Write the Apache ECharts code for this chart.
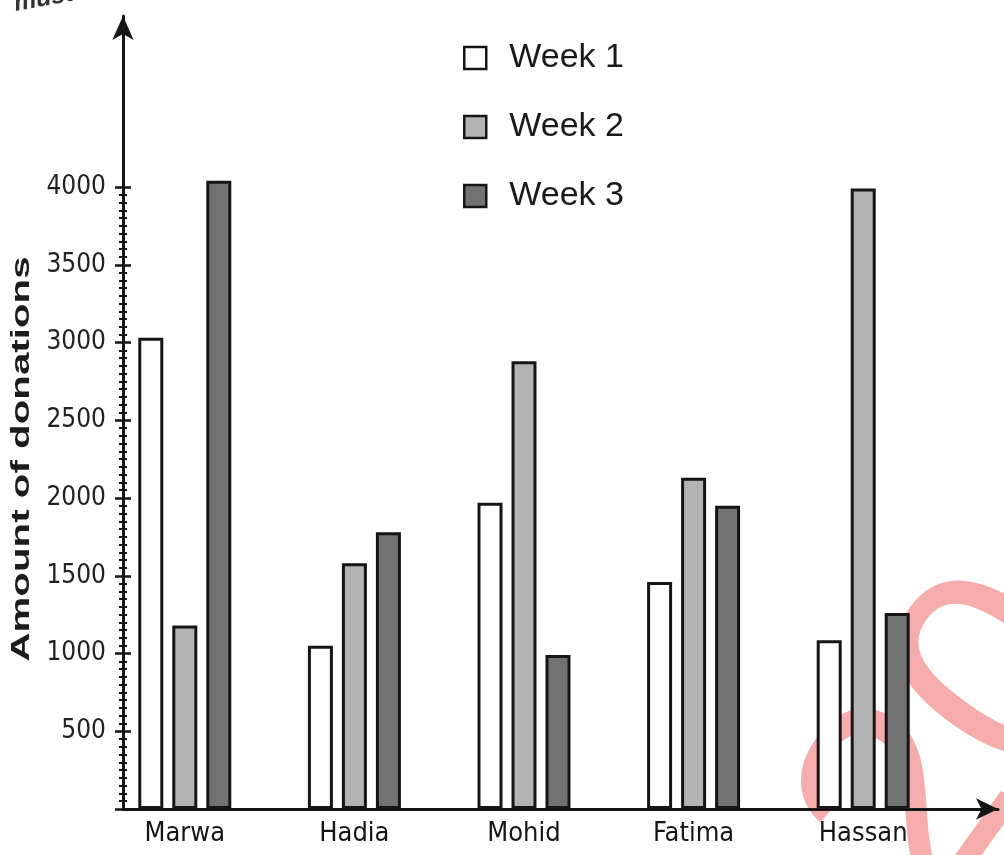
<!DOCTYPE html>
<html>
<head>
<meta charset="utf-8">
<script src="https://cdn.jsdelivr.net/npm/echarts@6/dist/echarts.min.js"></script>
<style>
  html, body { margin: 0; padding: 0; background: #ffffff; }
  #chart { width: 1004px; height: 855px; }
</style>
</head>
<body>
<div id="chart"></div>
<script>
// Donations collected per student over three weeks
const students = ['Marwa', 'Hadia', 'Mohid', 'Fatima', 'Hassan'];
const seriesNames = ['Week 1', 'Week 2', 'Week 3'];
const week1 = [3030, 1050, 1970, 1460, 1085];
const week2 = [1180, 1580, 2880, 2130, 3990];
const week3 = [4040, 1780, 990, 1950, 1260];

// Value axis range and tick step (labels 500 … 4000)
const yMin = 0;
const yMax = 4000;
const yStep = 500;

const FONT_NARROW = '"Liberation Sans Narrow", "Arial Narrow", "DejaVu Sans Condensed", sans-serif';
const FONT_SANS = '"Liberation Sans", Arial, sans-serif';
const INK = '#151515';

const chart = echarts.init(document.getElementById('chart'), null, { renderer: 'canvas' });

const barBorder = { borderColor: INK, borderWidth: 3 };
const fills = ['#ffffff', '#b3b3b3', '#727272'];
const values = [week1, week2, week3];

// shared settings for the tick-bearing value axes (one draws ticks outward, one inward)
function tickAxis(inside, showLabels) {
  return {
    type: 'value',
    gridIndex: 0,
    position: 'left',
    min: yMin,
    max: yMax,
    interval: yStep,
    offset: -23,
    axisLine: { show: false },
    splitLine: { show: false },
    axisTick: { show: true, inside: inside, length: 8, lineStyle: { color: INK, width: 2.5 } },
    minorTick: { show: true, splitNumber: 10, length: 4, lineStyle: { color: INK, width: 2 } },
    axisLabel: {
      show: showLabels,
      margin: 17,
      color: '#222',
      fontFamily: FONT_NARROW,
      fontSize: 26,
      formatter: function (v) { return v === 0 ? '' : String(v); }
    }
  };
}

const option = {
  backgroundColor: '#ffffff',
  animation: false,
  grid: [
    // plotting area for the bars (top edge sits at the 4000 level)
    { left: 100, right: 56, top: 187, bottom: 46 },
    // full frame carrying the arrowed axes
    { left: 123, right: 6, top: 16, bottom: 46 }
  ],
  legend: {
    orient: 'vertical',
    left: 458,
    top: 35,
    itemWidth: 22,
    itemHeight: 22,
    itemGap: 33,
    icon: 'rect',
    itemStyle: { borderColor: INK, borderWidth: 2.5 },
    textStyle: {
      fontFamily: FONT_SANS,
      fontSize: 34,
      lineHeight: 36,
      color: '#1a1a1a',
      padding: [0, 0, 0, 18]
    },
    data: seriesNames
  },
  xAxis: [
    {
      type: 'category',
      gridIndex: 0,
      data: students,
      axisLine: { show: false },
      axisTick: { show: false },
      axisLabel: {
        margin: 11,
        color: INK,
        fontFamily: FONT_NARROW,
        fontSize: 27
      }
    },
    {
      type: 'value',
      gridIndex: 1,
      min: 0,
      max: 1,
      axisLine: {
        show: true,
        symbol: ['none', 'arrow'],
        symbolSize: [16, 22],
        lineStyle: { color: INK, width: 3 }
      },
      axisTick: { show: false },
      axisLabel: { show: false },
      splitLine: { show: false }
    }
  ],
  yAxis: [
    tickAxis(false, true),
    {
      type: 'value',
      gridIndex: 1,
      position: 'left',
      min: 0,
      max: 1,
      axisLine: {
        show: true,
        symbol: ['none', 'arrow'],
        symbolSize: [16, 24],
        lineStyle: { color: INK, width: 3 }
      },
      axisTick: { show: false },
      axisLabel: { show: false },
      splitLine: { show: false }
    },
    tickAxis(true, false)
  ],
  series: seriesNames.map(function (name, i) {
    return {
      name: name,
      type: 'bar',
      xAxisIndex: 0,
      yAxisIndex: 0,
      data: values[i],
      clip: false,
      barWidth: 25,
      barGap: '36%',
      itemStyle: Object.assign({ color: fills[i] }, barBorder)
    };
  }),
  graphic: [
    {
      type: 'text',
      x: 22,
      y: 459,
      rotation: Math.PI / 2,
      scaleX: 1.55,
      style: {
        text: 'Amount of donations',
        font: 'bold 26px "Liberation Sans", Arial, sans-serif',
        fill: '#1c1c1c',
        textAlign: 'center',
        textVerticalAlign: 'middle'
      }
    },
    {
      type: 'text',
      x: 12,
      y: -8,
      rotation: 0.18,
      style: {
        text: 'must a',
        font: 'bold italic 25px "Liberation Sans", Arial, sans-serif',
        fill: '#333'
      }
    },
    {
      // red stamp in the lower right corner
      type: 'text',
      x: 962,
      y: 745,
      rotation: 0.95,
      silent: true,
      style: {
        text: '20',
        font: '290px "Liberation Sans", Arial, sans-serif',
        fill: 'rgba(240, 90, 90, 0.5)',
        textAlign: 'center',
        textVerticalAlign: 'middle'
      }
    }
  ]
};

chart.setOption(option);
</script>
</body>
</html>
